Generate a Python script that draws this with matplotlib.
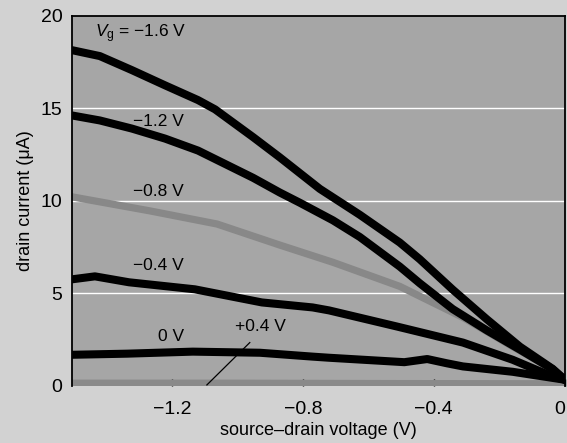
import matplotlib.pyplot as plt

plt.rcParams['font.family'] = ['Liberation Sans', 'DejaVu Sans']
plt.rcParams['mathtext.fontset'] = 'custom'
plt.rcParams['mathtext.rm'] = 'Liberation Sans'
plt.rcParams['mathtext.it'] = 'Liberation Sans:italic'

# source-drain voltage (V) and drain current (uA)
vg_m16_x = [-1.505, -1.42, -1.322, -1.221, -1.12, -1.068, -0.952, -0.87, -0.809, -0.748, -0.626,
            -0.504, -0.443, -0.342, -0.238, -0.137, -0.037, 0.0]
vg_m16_y = [18.15, 17.83, 17.07, 16.25, 15.45, 14.95, 13.45, 12.35, 11.5, 10.65, 9.25,
            7.75, 6.85, 5.2, 3.6, 2.12, 0.92, 0.33]

vg_m12_x = [-1.505, -1.42, -1.322, -1.221, -1.12, -0.952, -0.87, -0.809, -0.708, -0.626,
            -0.504, -0.443, -0.342, -0.238, -0.137, -0.037, 0.0]
vg_m12_y = [14.62, 14.35, 13.91, 13.37, 12.72, 11.25, 10.45, 9.9, 8.95, 8.05,
            6.45, 5.55, 4.15, 3.0, 1.96, 0.9, 0.33]

vg_m08_x = [-1.505, -1.267, -1.062, -0.87, -0.708, -0.504, -0.311, -0.159, -0.076, 0.0]
vg_m08_y = [10.22, 9.46, 8.75, 7.61, 6.68, 5.38, 3.7, 2.12, 1.3, 0.33]

vg_m04_x = [-1.505, -1.435, -1.331, -1.13, -0.925, -0.77, -0.72, -0.513, -0.311, -0.159, -0.037, 0.0]
vg_m04_y = [5.76, 5.92, 5.6, 5.22, 4.51, 4.24, 4.08, 3.21, 2.34, 1.41, 0.5, 0.33]

vg_0_x = [-1.505, -1.337, -1.136, -0.931, -0.77, -0.72, -0.49, -0.42, -0.36, -0.311, -0.159, -0.037, 0.0]
vg_0_y = [1.68, 1.74, 1.85, 1.79, 1.58, 1.52, 1.28, 1.45, 1.22, 1.05, 0.76, 0.43, 0.33]

vg_p04_x = [-1.505, -1.0, -0.5, 0.0]
vg_p04_y = [0.15, 0.15, 0.13, 0.12]

x_ticks = [-1.2, -0.8, -0.4, 0]
x_tick_labels = ['\u22121.2', '\u22120.8', '\u22120.4', '0']
y_ticks = [0, 5, 10, 15, 20]

fig = plt.figure(figsize=(5.67, 4.43), dpi=100, facecolor='#d2d2d2')
ax = fig.add_axes([0.127, 0.129, 0.869, 0.835], facecolor='#a6a6a6')

for y in [5, 10, 15]:
    ax.axhline(y, color='white', lw=1.0, zorder=1)

ax.plot(vg_p04_x, vg_p04_y, color='#8a8a8a', lw=5, zorder=2)
ax.plot(vg_m08_x, vg_m08_y, color='#888888', lw=5.2, solid_capstyle='round', zorder=2)
for xs, ys in [(vg_m16_x, vg_m16_y), (vg_m12_x, vg_m12_y), (vg_m04_x, vg_m04_y), (vg_0_x, vg_0_y)]:
    ax.plot(xs, ys, color='black', lw=5.8, solid_capstyle='round',
            solid_joinstyle='round', zorder=3)

ax.set_xlim(-1.505, 0)
ax.set_ylim(0, 20)

lbl = dict(fontsize=12.5, color='black', va='center', ha='left')
ax.text(-1.435, 19.05, '$V_{\\rm g}$ = \u22121.6 V', **lbl)
ax.text(-1.32, 14.3, '\u22121.2 V', **lbl)
ax.text(-1.32, 10.5, '\u22120.8 V', **lbl)
ax.text(-1.32, 6.5, '\u22120.4 V', **lbl)
ax.text(-1.243, 2.66, '0 V', **lbl)
ax.text(-1.008, 3.2, '+0.4 V', **lbl)
ax.plot([-0.962, -1.093], [2.34, 0.05], color='black', lw=0.9, zorder=4)

ax.set_xticks(x_ticks)
ax.set_xticklabels(x_tick_labels)
ax.set_yticks(y_ticks)
ax.tick_params(axis='x', direction='in', length=5, width=1, pad=11, labelsize=14)
ax.tick_params(axis='y', length=0, pad=7, labelsize=14)
ax.get_xticklabels()[-1].set_horizontalalignment('right')

for side in ['left', 'top', 'right']:
    ax.spines[side].set_color('black')
    ax.spines[side].set_linewidth(1.3)
ax.spines['bottom'].set_visible(False)

ax.set_xlabel('source\u2013drain voltage (V)', fontsize=13, labelpad=3)
ax.set_ylabel('drain current (\u03bcA)', fontsize=13, labelpad=5)

fig.savefig('out.png', dpi=100, facecolor=fig.get_facecolor())
